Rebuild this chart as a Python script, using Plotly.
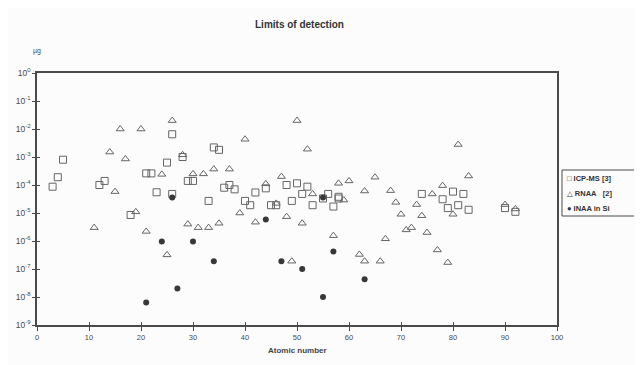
import plotly.graph_objects as go

# ---- data ----
icp_z = [3, 4, 5, 12, 13, 18, 21, 22, 23, 25, 26, 26, 28, 29, 30, 33, 34, 35, 36, 37, 38,
         40, 41, 42, 44, 45, 46, 48, 49, 50, 51, 52, 53, 55, 56, 57, 58, 58,
         74, 78, 79, 80, 81, 82, 83, 90, 92]
icp_v = [8.7e-5, 1.9e-4, 8e-4, 1e-4, 1.4e-4, 8.5e-6, 2.6e-4, 2.6e-4, 5.5e-5, 6.3e-4, 6.5e-3, 4.8e-5,
         1e-3, 1.4e-4, 1.4e-4, 2.7e-5, 2.2e-3, 1.8e-3, 8e-5, 1e-4, 7e-5,
         2.7e-5, 1.9e-5, 5.4e-5, 7.6e-5, 1.9e-5, 1.9e-5, 1e-4, 2.7e-5, 1.15e-4, 4.8e-5, 8.7e-5, 1.9e-5,
         3.3e-5, 4.8e-5, 1.7e-5, 3.8e-5, 3.3e-5,
         4.8e-5, 3.1e-5, 1.5e-5, 5.8e-5, 1.9e-5, 4.8e-5, 1.3e-5, 1.5e-5, 1.1e-5]

rnaa_z = [11, 14, 15, 16, 17, 19, 20, 21, 24, 25, 26, 28, 29, 30, 31, 32, 33, 34, 35, 37, 39, 40,
          42, 44, 46, 47, 48, 49, 50, 51, 52, 53, 57, 58, 59, 60, 62, 63, 63, 65, 66, 67, 68,
          69, 70, 71, 72, 73, 74, 75, 76, 77, 78, 79, 80, 81, 83, 90, 92]
rnaa_v = [3e-6, 1.5e-3, 5.8e-5, 1e-2, 8.5e-4, 1.1e-5, 1e-2, 2.2e-6, 2.4e-4, 3.2e-7, 2e-2, 1.2e-3,
          4e-6, 2.5e-4, 3e-6, 2.5e-4, 3e-6, 3.7e-4, 4.3e-6, 3.7e-4, 1e-5, 4.3e-3,
          4.7e-6, 1.1e-4, 2.2e-5, 2e-4, 7.4e-6, 1.9e-7, 2e-2, 4.3e-6, 1.9e-3, 4.8e-5, 1.55e-6, 1.15e-4,
          2.9e-5, 1.4e-4, 3.3e-7, 6.1e-5, 1.9e-7, 1.9e-4, 1.9e-7, 1.2e-6, 6.3e-5,
          2.4e-5, 9e-6, 2.5e-6, 3e-6, 2e-5, 8e-6, 2e-6, 4.8e-5, 4.8e-7, 9.5e-5, 1.7e-7, 9e-6, 2.8e-3,
          2.1e-4, 2e-5, 1.4e-5]

inaa_z = [21, 24, 26, 27, 30, 34, 44, 47, 51, 55, 55, 57, 63]
inaa_v = [6.3e-9, 9.5e-7, 3.6e-5, 2e-8, 9.5e-7, 1.9e-7, 5.9e-6, 1.9e-7, 1e-7, 1e-8, 3.6e-5, 4.2e-7, 4.3e-8]

x_ticks = [0, 10, 20, 30, 40, 50, 60, 70, 80, 90, 100]
y_exps = [0, -1, -2, -3, -4, -5, -6, -7, -8, -9]

# ---- figure ----
INK = "#4a4a4a"
FONT = "Liberation Sans, Arial, DejaVu Sans"

# page body adds an 8px offset; plot area on screen: x 37..557, y 73..325
L, R, T, B = 29, 93, 65, 48
PW, PH = 642 - L - R, 365 - T - B


def px(x):
    return (x - 8 - L) / PW


def py(y):
    return (365 - B - (y - 8)) / PH


fig = go.Figure()
fig.add_trace(go.Scatter(x=icp_z, y=icp_v, mode="markers", name="ICP-MS [3]",
                         marker=dict(symbol="square-open", size=7, color="#666", line=dict(width=1))))
fig.add_trace(go.Scatter(x=rnaa_z, y=rnaa_v, mode="markers", name="RNAA  [2]",
                         marker=dict(symbol="triangle-up-open", size=7, color="#666", line=dict(width=1))))
fig.add_trace(go.Scatter(x=inaa_z, y=inaa_v, mode="markers", name="INAA in Si",
                         marker=dict(symbol="circle", size=6, color="#383838")))
# empty trace to anchor the overlay axes (inner half of the crossing ticks)
fig.add_trace(go.Scatter(x=[], y=[], xaxis="x2", yaxis="y2", showlegend=False, hoverinfo="skip"))

yvals = [10.0 ** e for e in y_exps]
ytext = ["10<sup>%d</sup>" % e for e in y_exps]

fig.update_layout(
    width=642, height=365,
    margin=dict(l=L, r=R, t=T, b=B, autoexpand=False),
    paper_bgcolor="#fcfcfc", plot_bgcolor="#fcfcfc",
    showlegend=False,
    font=dict(family=FONT, color=INK, size=8),
    xaxis=dict(range=[0, 100], tickvals=x_ticks, ticks="outside", ticklen=4, tickwidth=1,
               tickcolor=INK, showgrid=False, zeroline=False, showline=True, linecolor=INK,
               linewidth=1.5, mirror=True, tickfont=dict(size=7.5, color=INK)),
    yaxis=dict(type="log", range=[-9, 0], tickvals=yvals, ticktext=ytext, ticks="outside",
               ticklen=3, tickwidth=1, tickcolor=INK, showgrid=False, zeroline=False,
               showline=True, linecolor=INK, linewidth=1.5, mirror=True,
               tickfont=dict(size=8.5, color=INK)),
    xaxis2=dict(overlaying="x", side="bottom", range=[0, 100], tickvals=x_ticks, ticks="inside",
                ticklen=3, tickwidth=1, tickcolor=INK, showticklabels=False, showgrid=False,
                zeroline=False, showline=False),
    yaxis2=dict(overlaying="y", side="left", type="log", range=[-9, 0], tickvals=yvals,
                ticks="inside", ticklen=3, tickwidth=1, tickcolor=INK, showticklabels=False,
                showgrid=False, zeroline=False, showline=False),
)

fig.add_annotation(text="<b>Limits of detection</b>", xref="paper", yref="paper", x=px(299), y=py(17),
                   showarrow=False, font=dict(size=10, color="#333"))
fig.add_annotation(text="µg", xref="paper", yref="paper", x=px(37), y=py(45), xanchor="center",
                   showarrow=False, font=dict(size=7, color=INK))
fig.add_annotation(text="<b>Atomic number</b>", xref="paper", yref="paper", x=px(297), y=py(357),
                   showarrow=False, font=dict(size=8, color="#444"))

# legend box drawn as text entries
fig.add_shape(type="rect", xref="paper", yref="paper", x0=px(562), x1=px(650), y0=py(216), y1=py(170),
              line=dict(color=INK, width=1))
legend_rows = [("□ ICP-MS [3]", 178), ("△ RNAA&nbsp;&nbsp; [2]", 193), ("● INAA in Si", 208)]
for txt, yy in legend_rows:
    fig.add_annotation(text="<b>%s</b>" % txt, xref="paper", yref="paper",
                       x=px(565), y=py(yy), xanchor="left", yanchor="middle", showarrow=False,
                       font=dict(size=7.5, color="#333", family=FONT))

fig.write_html("out.html")
